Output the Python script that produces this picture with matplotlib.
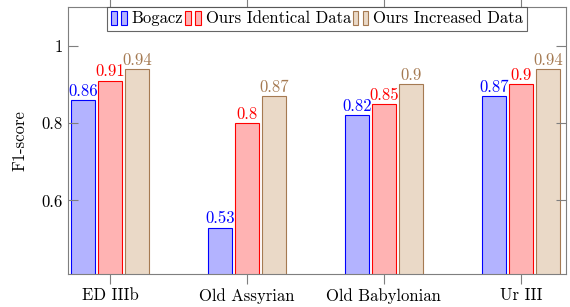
import numpy as np
import matplotlib
matplotlib.use('Agg')
import matplotlib.pyplot as plt
from matplotlib.patches import Rectangle
from matplotlib.legend_handler import HandlerBase

plt.rcParams['font.family'] = ['cmr10', 'DejaVu Serif']
plt.rcParams['mathtext.fontset'] = 'cm'
plt.rcParams['axes.formatter.use_mathtext'] = True

categories = ['ED IIIb', 'Old Assyrian', 'Old Babylonian', 'Ur III']
bogacz = [0.86, 0.53, 0.82, 0.87]
identical = [0.91, 0.80, 0.85, 0.90]
increased = [0.94, 0.87, 0.90, 0.94]
series_names = ['Bogacz', 'Ours Identical Data', 'Ours Increased Data']

fills = ['#b3b3ff', '#ffb3b3', '#ead9c7']
edges = ['#0000ff', '#ff0000', '#a57a52']
fs = 12


class TwoBars(HandlerBase):
    def create_artists(self, legend, orig, xd, yd, w, h, fontsize, trans):
        out = []
        for x0 in (0.0, 0.6):
            r = Rectangle((xd + x0 * w, yd - 0.1 * h), 0.35 * w, h * 1.2,
                          facecolor=orig.get_facecolor(),
                          edgecolor=orig.get_edgecolor(), lw=0.8,
                          transform=trans)
            out.append(r)
        return out


fig = plt.figure(figsize=(5.7, 3.07), dpi=100)
ax = fig.add_axes([68 / 570, 33 / 307, 498 / 570, 267 / 307])

x = np.arange(len(categories))
width = 0.175
offset = 0.197
handles = []
for i, vals in enumerate([bogacz, identical, increased]):
    pos = x + (i - 1) * offset
    bars = ax.bar(pos, vals, width, facecolor=fills[i], edgecolor=edges[i],
                  linewidth=0.8, label=series_names[i])
    handles.append(bars[0])
    for p, v in zip(pos, vals):
        ax.text(p, v + 0.003, f'{v:g}', ha='center', va='bottom',
                color=edges[i], fontsize=fs)

ax.set_xlim(-0.307, 3.33)
ax.set_ylim(0.41, 1.1)
ax.set_xticks(x)
ax.set_xticklabels(categories, fontsize=fs)
ax.set_yticks([0.6, 0.8, 1.0])
ax.set_yticklabels(['0.6', '0.8', '1'], fontsize=fs)
ax.set_ylabel('F1-score', fontsize=fs, labelpad=10)

for s in ax.spines.values():
    s.set_color('#7f7f7f')
    s.set_linewidth(0.8)
ax.tick_params(axis='x', direction='out', length=7, color='#7f7f7f',
               top=True, width=0.8, pad=3)
ax.tick_params(axis='y', direction='in', length=7, color='#7f7f7f',
               right=True, width=0.8, pad=4)

leg = ax.legend(handles, series_names, handler_map={h: TwoBars() for h in handles},
                loc='upper center', bbox_to_anchor=(0.5, 1.0),
                ncol=3, fontsize=fs, frameon=True, fancybox=False,
                borderaxespad=0, handlelength=1.0, handletextpad=0.25,
                columnspacing=0.1, borderpad=0.25)
leg.get_frame().set_edgecolor('#404040')
leg.get_frame().set_linewidth(0.8)

fig.savefig('out.png', dpi=100)
